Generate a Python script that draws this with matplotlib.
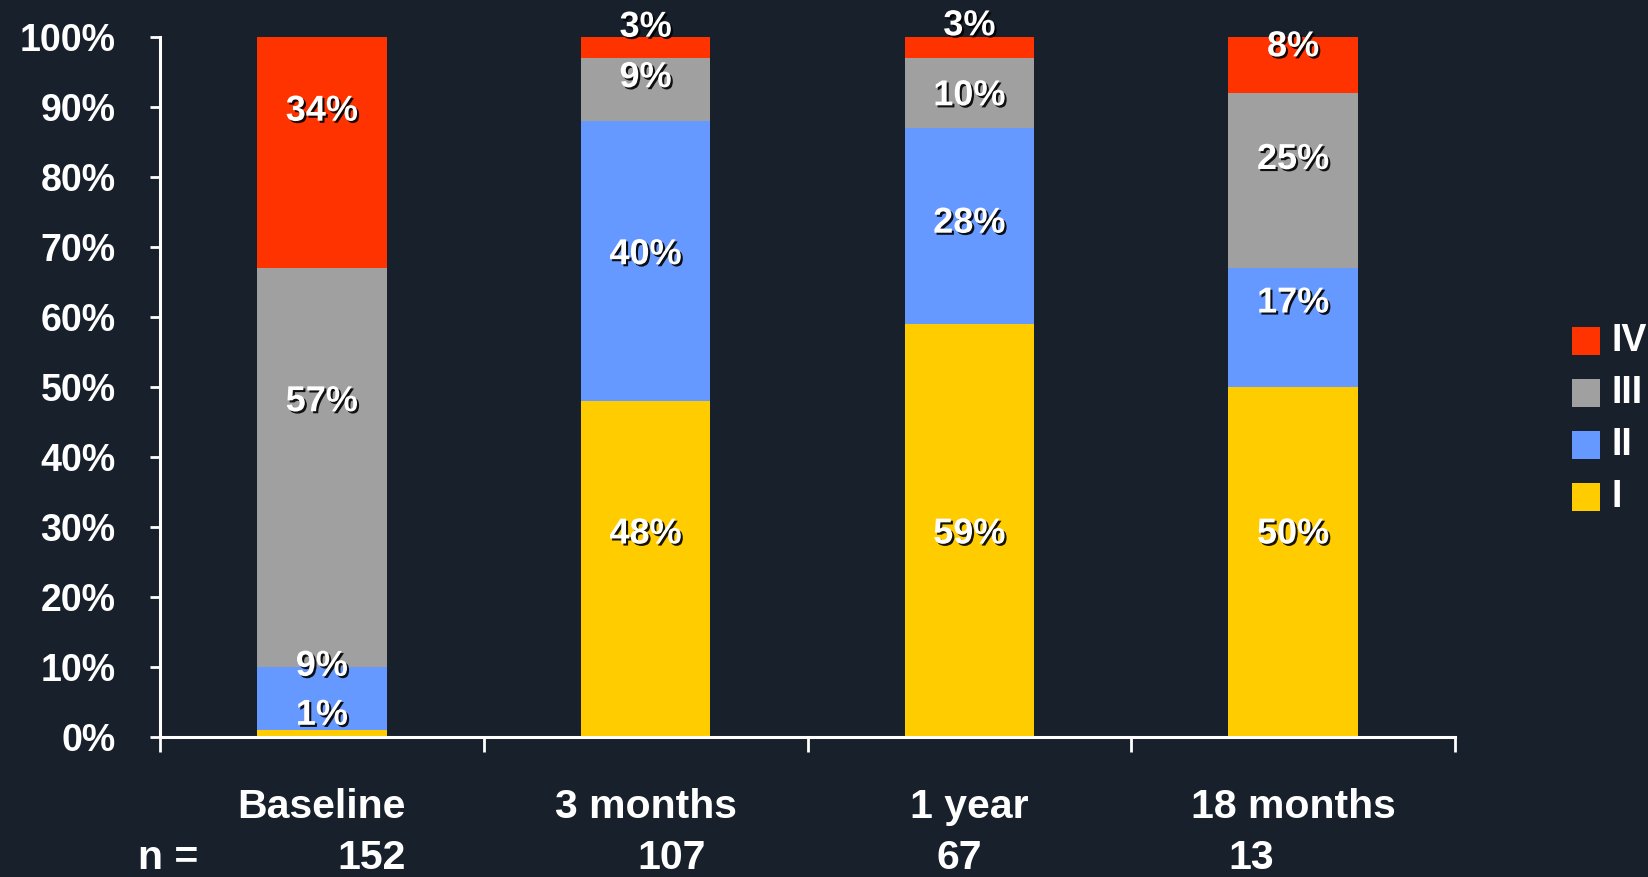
import matplotlib
matplotlib.use("Agg")
import matplotlib.pyplot as plt
import matplotlib.patheffects as pe
import matplotlib.transforms as mtransforms
from matplotlib.patches import Rectangle
import numpy as np

# Functional class distribution at each follow-up visit (percent of patients)
categories = ["Baseline", "3 months", "1 year", "18 months"]
n_values = [152, 107, 67, 13]
class_I = [1, 48, 59, 50]
class_II = [9, 40, 28, 17]
class_III = [57, 9, 10, 25]
class_IV = [34, 3, 3, 8]
series_names = ["I", "II", "III", "IV"]

series = [class_I, class_II, class_III, class_IV]
colors = ["#FFCC00", "#6699FF", "#A0A0A0", "#FF3300"]
bg = "#17202B"

# vertical nudges (percentage points) for each value label, per series
label_nudge = [
    [2.6, 5.0, -0.5, 4.0],
    [4.6, 0.9, 0.4, 3.5],
    [9.4, 1.7, -0.4, 3.0],
    [5.4, 2.9, 3.1, 2.6],
]
# horizontal offsets of the sample-size numbers under each category
n_offset = [0.155, 0.08, -0.03, -0.13]

W, H = 1648, 877
fig = plt.figure(figsize=(W / 100, H / 100), dpi=100, facecolor=bg)
ax = fig.add_axes([160 / W, (H - 737) / H, (1455 - 160) / W, 700 / H])
ax.set_facecolor(bg)

font = "Liberation Sans"
x = np.arange(len(categories))
bottom = np.zeros(len(categories))
shadow = [pe.SimplePatchShadow(offset=(1.5, -1.5), shadow_rgbFace="black", alpha=0.9), pe.Normal()]

for s, (vals, col) in enumerate(zip(series, colors)):
    vals = np.array(vals, dtype=float)
    ax.bar(x, vals, width=0.4, bottom=bottom, color=col, edgecolor="none", zorder=2)
    for i, v in enumerate(vals):
        y = bottom[i] + v / 2 + label_nudge[s][i]
        ax.text(x[i], y, f"{int(v)}%", ha="center", va="center", color="white",
                fontsize=26, fontweight="bold", family=font, zorder=4,
                path_effects=shadow, clip_on=False)
    bottom += vals

ax.set_xlim(-0.5, len(categories) - 0.5)
ax.set_ylim(0, 100)

for side in ("top", "right"):
    ax.spines[side].set_visible(False)
for side in ("left", "bottom"):
    ax.spines[side].set_color("white")
    ax.spines[side].set_linewidth(2.2)

ax.set_yticks(np.arange(0, 101, 10))
ax.set_yticklabels([f"{v}%" for v in range(0, 101, 10)])
ax.tick_params(axis="y", colors="white", length=7, width=2, direction="out", pad=25)
for lab in ax.get_yticklabels():
    lab.set_fontsize(27)
    lab.set_fontweight("bold")
    lab.set_family(font)
    lab.set_color("white")

ax.set_xticks(np.arange(-0.5, len(categories), 1.0))
ax.set_xticklabels([])
ax.tick_params(axis="x", colors="white", length=10.5, width=2, direction="out")

# category names and sample sizes below the axis
n_base = (H - 869) / H
trans = mtransforms.blended_transform_factory(ax.transData, fig.transFigure)
for i, (cat, n) in enumerate(zip(categories, n_values)):
    ax.text(x[i], (H - 818) / H, cat, transform=trans, ha="center", va="baseline",
            color="white", fontsize=29.5, fontweight="bold", family=font, clip_on=False)
    ax.text(x[i] + n_offset[i], n_base, str(n), transform=trans, ha="center",
            va="baseline", color="white", fontsize=29.5, fontweight="bold", family=font,
            clip_on=False)
fig.text(138 / W, n_base, "n =", ha="left", va="baseline", color="white",
         fontsize=29.5, fontweight="bold", family=font)

# legend, top entry is class IV
legend_y = [341, 393, 445, 497]
for k, s in enumerate(reversed(range(len(series_names)))):
    yc = legend_y[k]
    fig.patches.append(Rectangle((1572 / W, (H - yc - 14) / H), 28 / W, 28 / H,
                                 transform=fig.transFigure, facecolor=colors[s],
                                 edgecolor="none"))
    fig.text(1611 / W, (H - yc) / H, series_names[s], ha="left", va="center",
             color="white", fontsize=27, fontweight="bold", family=font)

fig.savefig("out.png", dpi=100, facecolor=bg)
